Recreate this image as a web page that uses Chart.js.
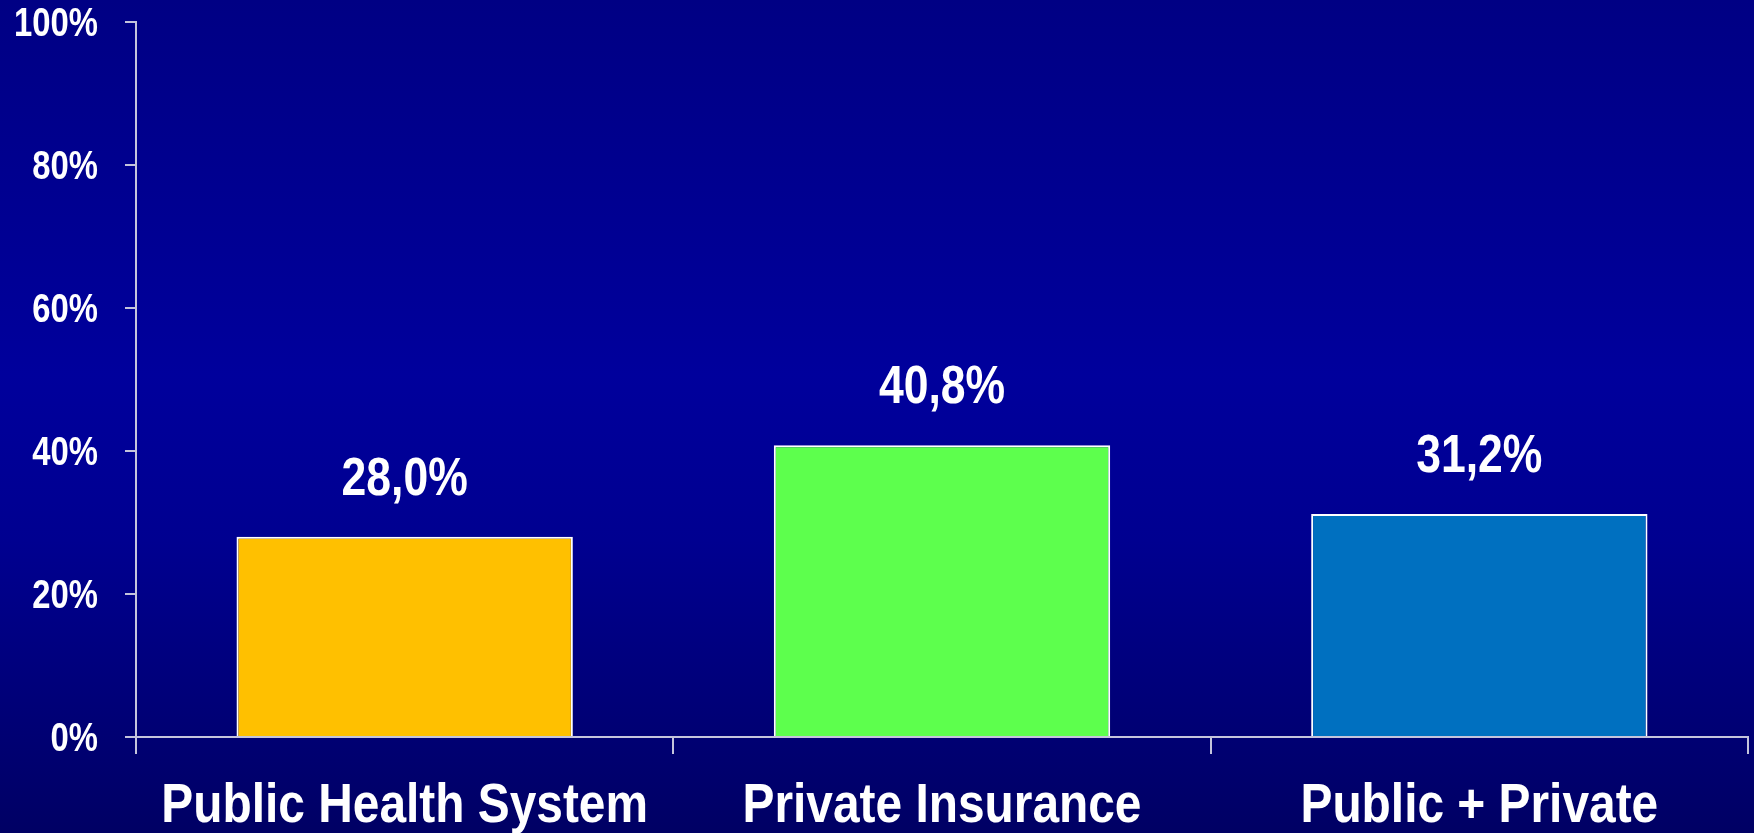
<!DOCTYPE html>
<html>
<head>
<meta charset="utf-8">
<script src="https://cdn.jsdelivr.net/npm/chart.js@4/dist/chart.umd.min.js"></script>
<style>
  html, body { margin: 0; padding: 0; }
  body {
    width: 1754px;
    height: 833px;
    background: linear-gradient(to bottom, #000084 0%, #00009c 45%, #000090 65%, #000064 100%);
    overflow: hidden;
  }
  canvas { display: block; }
</style>
</head>
<body>
<canvas id="coverChart" width="1754" height="833"></canvas>
<script>
const categories = ['Public Health System', 'Private Insurance', 'Public + Private'];
const shares = [28.0, 40.8, 31.2];
const shareLabels = ['28,0%', '40,8%', '31,2%'];
const barColors = ['#ffc000', '#5dff4d', '#0070c0'];
const yTicks = [0, 20, 40, 60, 80, 100];

const FONT = '"Liberation Sans", Arial, sans-serif';
const AXIS = '#c4c4dc';

// narrow bold text: Liberation Sans squeezed horizontally
function narrowText(ctx, text, x, y, size, squeeze, align) {
  ctx.save();
  ctx.font = 'bold ' + size + 'px ' + FONT;
  ctx.fillStyle = '#ffffff';
  ctx.textAlign = align;
  ctx.textBaseline = 'alphabetic';
  ctx.translate(x, y);
  ctx.scale(squeeze, 1);
  ctx.fillText(text, 0, 0);
  ctx.restore();
}

const textLayer = {
  id: 'textLayer',
  afterDraw(chart) {
    const ctx = chart.ctx;
    const xs = chart.scales.x;
    const ys = chart.scales.y;
    const area = chart.chartArea;

    // value above each bar
    chart.getDatasetMeta(0).data.forEach((bar, i) => {
      narrowText(ctx, shareLabels[i], bar.x, bar.y - 42, 53, 0.84, 'center');
    });

    // category names under the axis
    categories.forEach((c, i) => {
      narrowText(ctx, c, xs.getPixelForTick(i), area.bottom + 85, 55, 0.87, 'center');
    });

    // percent ticks on the left
    yTicks.forEach(v => {
      narrowText(ctx, v + '%', area.left - 38, ys.getPixelForValue(v) + 14, 40, 0.82, 'right');
    });

    // tick marks at both ends of the category axis
    ctx.save();
    ctx.strokeStyle = AXIS;
    ctx.lineWidth = 2;
    ctx.beginPath();
    [area.left, area.right].forEach(x => {
      ctx.moveTo(x, area.bottom);
      ctx.lineTo(x, area.bottom + 17);
    });
    ctx.stroke();
    ctx.restore();
  }
};

const ctx = document.getElementById('coverChart').getContext('2d');

new Chart(ctx, {
  type: 'bar',
  data: {
    labels: categories,
    datasets: [{
      data: shares,
      backgroundColor: barColors,
      borderColor: '#ffffff',
      borderWidth: 2,
      categoryPercentage: 1,
      barPercentage: 0.626,
    }],
  },
  options: {
    responsive: false,
    animation: false,
    layout: { padding: { top: 22, right: 6, left: 0, bottom: 0 } },
    plugins: {
      legend: { display: false },
      tooltip: { enabled: false },
    },
    scales: {
      x: {
        afterFit(scale) {
          scale.height = 96;
          scale.paddingLeft = 0;
          scale.paddingRight = 0;
        },
        grid: {
          drawOnChartArea: false,
          tickLength: 17,
          color: AXIS,
          lineWidth: 2,
        },
        border: { color: AXIS, width: 2 },
        ticks: { display: false, autoSkip: false },
      },
      y: {
        min: 0,
        max: 100,
        afterFit(scale) {
          scale.width = 136;
          scale.paddingTop = 0;
          scale.paddingBottom = 0;
        },
        afterBuildTicks(scale) {
          scale.ticks = yTicks.map(v => ({ value: v }));
        },
        grid: {
          drawOnChartArea: false,
          tickLength: 11,
          color: AXIS,
          lineWidth: 2,
        },
        border: { color: AXIS, width: 2 },
        ticks: { display: false },
      },
    },
  },
  plugins: [textLayer],
});
</script>
</body>
</html>
